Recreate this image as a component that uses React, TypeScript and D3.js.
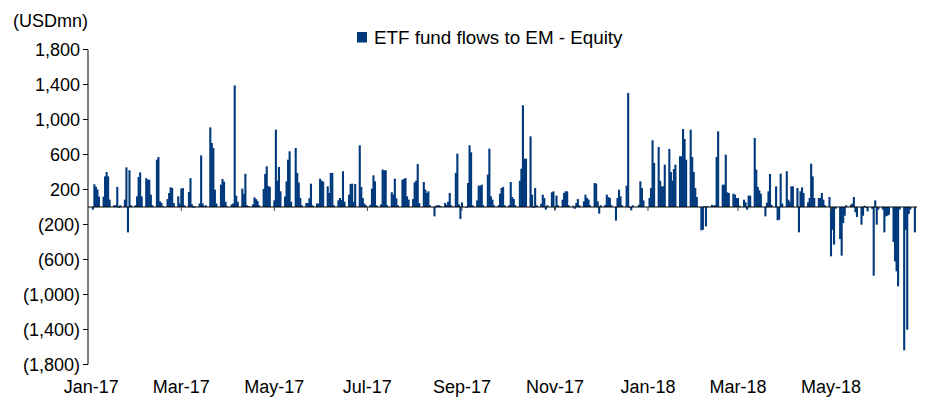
import { useEffect, useRef } from 'react';
import * as d3 from 'd3';

// daily flows (USDmn), one row per trading week, Mon..Fri
const flows2017Q1 = [
  -30, 260, 230, 200, 120,
  118, 350, 400, 350, 84,
  20, 20, 230, -10, 20,
  84, 453, -290, 420, 20,
  20, 122, 343, 396, 122,
  330, 312, 312, 141, 20,
  541, 571, 65, 46, 10,
  91, 160, 225, 217, 46,
  122, 38, 210, 217, 20,
  171, 330, 30, -10, 10,
  40, 590, 40, 10, 20,
  910, 731, 674, 198, 40,
  255, 320, 290, 60, 10,
];

const flows2017Q2 = [
  30, 40, 1390, 130, 60,
  210, 150, 380, 20, 10,
  30, 110, 90, 70, 20,
  206, 377, 465, 240, 230,
  76, 884, 300, 457, 180,
  120, 293, 541, 636, 60,
  674, 389, 280, 103, 20,
  46, 46, 100, 267, 20,
  40, 40, 324, 301, 290,
  236, 160, 389, 389, 20,
  76, 103, 80, 408, 60,
  141, 263, 267, 60, 263,
  705, 229, 103, 40, 20,
];

const flows2017Q3 = [
  25, 210, 362, 293, 20,
  30, 427, 420, 420, 20,
  168, 141, 324, 100, 20,
  312, 320, 331, 122, 84,
  91, 282, 300, 491, 46,
  286, 200, 160, 179, 20,
  -107, 15, 20, 20, 10,
  46, 25, 60, 160, 20,
  389, 610, 30, -137, 53,
  -10, 274, 705, 625, 20,
  76, 244, 244, 255, 20,
  370, 667, 122, 84, 20,
  20, 152, 217, 229, 20,
];

const flows2017Q4 = [
  20, 286, 114, 91, 20,
  300, 438, 1162, 552, 552,
  808, 141, -10, 217, 20,
  38, 141, 103, -30, 20,
  168, 179, -30, 130, 20,
  84, 160, 179, 179, 20,
  15, -20, 46, 91, 20,
  65, 141, 103, 84, 20,
  274, 267, 65, -76, 20,
  25, 141, 114, 103, 20,
  -156, 103, 198, 122, 20,
  244, 1303, -10, -38, 20,
  0, 25, 293, 217, 76,
];

const flows2018Q1 = [
  0, 103, 217, 762, 503,
  686, 300, 236, 236, 484,
  663, 400, 300, 434, 484,
  579, 579, 891, 777, 541,
  884, 571, 400, 217, 114,
  -267, -260, 10, -221, 10,
  25, 15, 20, 571, 865,
  255, 255, 598, 168, 160,
  152, 141, 103, 103, 15,
  84, 53, -30, 130, 130,
  789, 427, 229, 190, 152,
  -107, 50, 179, 377, 25,
  236, -152, -145, 381, 40,
];

const flows2018Q2 = [
  408, 84, 60, 236, 236,
  217, -290, 179, 225, 160,
  53, 103, 495, 350, 103,
  103, 103, 160, 84, 20,
  114, -564, -260, -430, -20,
  -366, -556, -183, -100, 20,
  25, 38, 114, -60, -114,
  -202, -100, 15, -10, -50,
  -20, -785, 76, -202, -30,
  -30, -290, -107, -100, -88,
  -400, -621, -735, -907, -30,
  -1638, -260, -1402, -80, -30,
  -290,
];

const yTicks = [1800, 1400, 1000, 600, 200, -200, -600, -1000, -1400, -1800];
const xLabels = ['Jan-17', 'Mar-17', 'May-17', 'Jul-17', 'Sep-17', 'Nov-17', 'Jan-18', 'Mar-18', 'May-18'];
const xLabelDates = [
  new Date(2017, 0, 1), new Date(2017, 2, 1), new Date(2017, 4, 1), new Date(2017, 6, 1),
  new Date(2017, 8, 1), new Date(2017, 10, 1), new Date(2018, 0, 1), new Date(2018, 2, 1),
  new Date(2018, 4, 1),
];
const seriesName = 'ETF fund flows to EM - Equity';
const unitLabel = '(USDmn)';

const BAR = '#003A7D';
const FONT = '"Liberation Sans", Arial, sans-serif';

export default function App() {
  const svgRef = useRef<SVGSVGElement>(null);

  useEffect(() => {
    if (!svgRef.current) return;
    const svg = d3.select(svgRef.current);
    svg.selectAll('*').remove();

    const values = [...flows2017Q1, ...flows2017Q2, ...flows2017Q3, ...flows2017Q4, ...flows2018Q1, ...flows2018Q2];
    // assign values to successive weekdays starting Mon 2 Jan 2017
    const data: { date: Date; value: number }[] = [];
    const d = new Date(2017, 0, 2);
    values.forEach(v => {
      data.push({ date: new Date(d), value: v });
      d.setDate(d.getDate() + 1);
      while (d.getDay() === 0 || d.getDay() === 6) d.setDate(d.getDate() + 1);
    });

    const x = d3.scaleTime()
      .domain([new Date(2016, 11, 30), new Date(2018, 5, 26)])
      .range([88.3, 916.4]);
    const y = d3.scaleLinear().domain([-1800, 1800]).range([364.5, 49.5]);
    const y0 = y(0);

    // bars
    svg.append('g')
      .selectAll('rect')
      .data(data)
      .enter().append('rect')
      .attr('x', dd => x(dd.date) - 1.05)
      .attr('width', 2.1)
      .attr('y', dd => Math.min(y(dd.value), y0))
      .attr('height', dd => Math.abs(y(dd.value) - y0))
      .attr('fill', BAR);

    // zero line + 2-monthly ticks
    svg.append('line')
      .attr('x1', 88).attr('x2', 917)
      .attr('y1', y0).attr('y2', y0)
      .attr('stroke', '#000').attr('stroke-width', 1);

    svg.append('g')
      .selectAll('line')
      .data(xLabelDates.slice(1))
      .enter().append('line')
      .attr('x1', dd => x(dd)).attr('x2', dd => x(dd))
      .attr('y1', y0).attr('y2', y0 + 4)
      .attr('stroke', '#444').attr('stroke-width', 1);

    // y axis
    const fmt = d3.format(',');
    svg.append('line')
      .attr('x1', 88).attr('x2', 88)
      .attr('y1', y(1800)).attr('y2', y(-1800))
      .attr('stroke', '#000').attr('stroke-width', 1);

    const yg = svg.append('g');
    yg.selectAll('line')
      .data(yTicks)
      .enter().append('line')
      .attr('x1', 83).attr('x2', 88)
      .attr('y1', v => y(v)).attr('y2', v => y(v))
      .attr('stroke', '#000');
    yg.selectAll('text')
      .data(yTicks)
      .enter().append('text')
      .attr('x', 80)
      .attr('y', v => y(v))
      .attr('dy', '0.35em')
      .attr('text-anchor', 'end')
      .style('font-family', FONT)
      .style('font-size', '18px')
      .style('fill', '#000')
      .text(v => (v < 0 ? `(${fmt(-v)})` : fmt(v)));

    // x labels at bottom
    svg.append('g')
      .selectAll('text')
      .data(xLabelDates)
      .enter().append('text')
      .attr('x', dd => x(dd))
      .attr('y', 393)
      .attr('text-anchor', 'middle')
      .style('font-family', FONT)
      .style('font-size', '18px')
      .style('fill', '#000')
      .text((dd, i) => xLabels[i]);

    // unit label
    svg.append('text')
      .attr('x', 13).attr('y', 27)
      .style('font-family', FONT)
      .style('font-size', '18px')
      .style('fill', '#000')
      .text(unitLabel);

    // legend
    svg.append('rect')
      .attr('x', 357).attr('y', 32)
      .attr('width', 10).attr('height', 10.5)
      .attr('fill', BAR);
    svg.append('text')
      .attr('x', 374).attr('y', 43.5)
      .style('font-family', FONT)
      .style('font-size', '18.8px')
      .style('fill', '#000')
      .text(seriesName);
  }, []);

  return (
    <svg
      ref={svgRef}
      width={952}
      height={401}
      style={{ position: 'absolute', left: 0, top: 0, background: '#fff' }}
    />
  );
}
